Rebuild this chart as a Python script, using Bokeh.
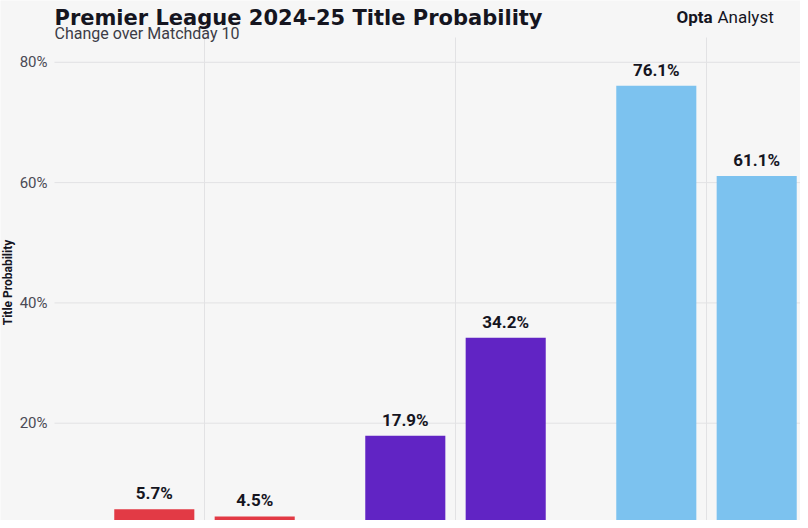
import math
from bokeh.plotting import figure
from bokeh.models import ColumnDataSource, Label, Range1d
from bokeh.core.properties import value
from bokeh.embed import file_html
from bokeh.resources import INLINE

# ---- data ----
groups = ["Team A", "Team B", "Team C"]          # x axis is cropped out in the reference
group_colors = ["#e23a45", "#6124c4", "#7cc2ef"]
before_md10 = [5.7, 17.9, 76.1]
after_md10 = [4.5, 34.2, 61.1]
y_ticks = [20, 40, 60, 80]

title_text = "Premier League 2024-25 Title Probability"
subtitle_text = "Change over Matchday 10"
y_label_text = "Title Probability"
brand_bold = "Opta"
brand_regular = "Analyst"

# ---- layout: the frame is the whole canvas, everything drawn inside it ----
W, H = 800, 520
GX0 = 204          # canvas px of first group centre
GPX = 251.0        # px per group
ZY = 543           # canvas px of the 0% line (below the visible area)
PPY = 6.015        # px per percentage point
X0, X1 = -GX0 / GPX, (W - GX0) / GPX
Y0, Y1 = (ZY - H) / PPY, ZY / PPY


def dx(cx):
    return X0 + cx / GPX


def dy(cy):
    return Y1 - cy / PPY


BG = "#f6f6f6"
GRID = "#e2e2e4"
FONT = "Roboto"
WIDE = "DejaVu Sans"
INK = "#15151f"

p = figure(width=W, height=H, output_backend="svg", toolbar_location=None,
           x_range=Range1d(X0, X1), y_range=Range1d(Y0, Y1),
           x_axis_location=None, y_axis_location=None,
           min_border_left=0, min_border_top=0, min_border_right=0, min_border_bottom=0)
p.background_fill_color = BG
p.border_fill_color = BG
p.outline_line_color = None
p.xgrid.visible = False
p.ygrid.visible = False

# grid lines
n = len(groups)
p.segment(x0=[dx(54)] * len(y_ticks), x1=[X1] * len(y_ticks), y0=y_ticks, y1=y_ticks,
          line_color=GRID, line_width=1)
p.segment(x0=list(range(n)), x1=list(range(n)), y0=[Y0] * n, y1=[dy(37)] * n,
          line_color=GRID, line_width=1)

# y tick labels
p.text(x=[dx(47)] * len(y_ticks), y=y_ticks, text=[f"{t}%" for t in y_ticks],
       text_align="right", text_baseline="middle", text_font=value(FONT),
       text_font_size="15px", text_color="#4a4a55")

# bars
off, bw = 0.2, 0.319
xs, tops, cols, labs = [], [], [], []
for i, (b, a, c) in enumerate(zip(before_md10, after_md10, group_colors)):
    for k, v in ((-1, b), (1, a)):
        xs.append(i + k * off)
        tops.append(v)
        cols.append(c)
        labs.append(f"{v:.1f}%")
src = ColumnDataSource(dict(x=xs, top=tops, color=cols, label=labs))
p.vbar(x="x", top="top", width=bw, bottom=0, color="color", line_color=None, source=src)
p.text(x="x", y="top", text="label", source=src, text_align="center",
       text_baseline="bottom", y_offset=-6, text_font=value(FONT),
       text_font_style="bold", text_font_size="17px", text_color=INK)

# titles
p.add_layout(Label(x=dx(54), y=dy(17), text=title_text, text_font=WIDE,
                   text_font_style="bold", text_font_size="21px", text_color=INK,
                   text_baseline="alphabetic"))
p.add_layout(Label(x=dx(54), y=dy(33), text=subtitle_text, text_font=FONT,
                   text_font_size="16px", text_color="#3c3c46",
                   text_baseline="alphabetic"))
p.add_layout(Label(x=dx(7), y=dy(282), text=y_label_text, text_font=FONT,
                   text_font_style="bold", text_font_size="12px", text_color=INK,
                   angle=math.pi / 2, text_align="center", text_baseline="middle"))
# brand
p.add_layout(Label(x=dx(676), y=dy(16), text=brand_bold, text_font=FONT,
                   text_font_style="bold", text_font_size="17px", text_color=INK,
                   text_baseline="alphabetic"))
p.add_layout(Label(x=dx(717), y=dy(16), text=brand_regular, text_font=FONT,
                   text_font_size="17px", text_color=INK,
                   text_baseline="alphabetic"))

open("out.html", "w").write(file_html(p, INLINE))
